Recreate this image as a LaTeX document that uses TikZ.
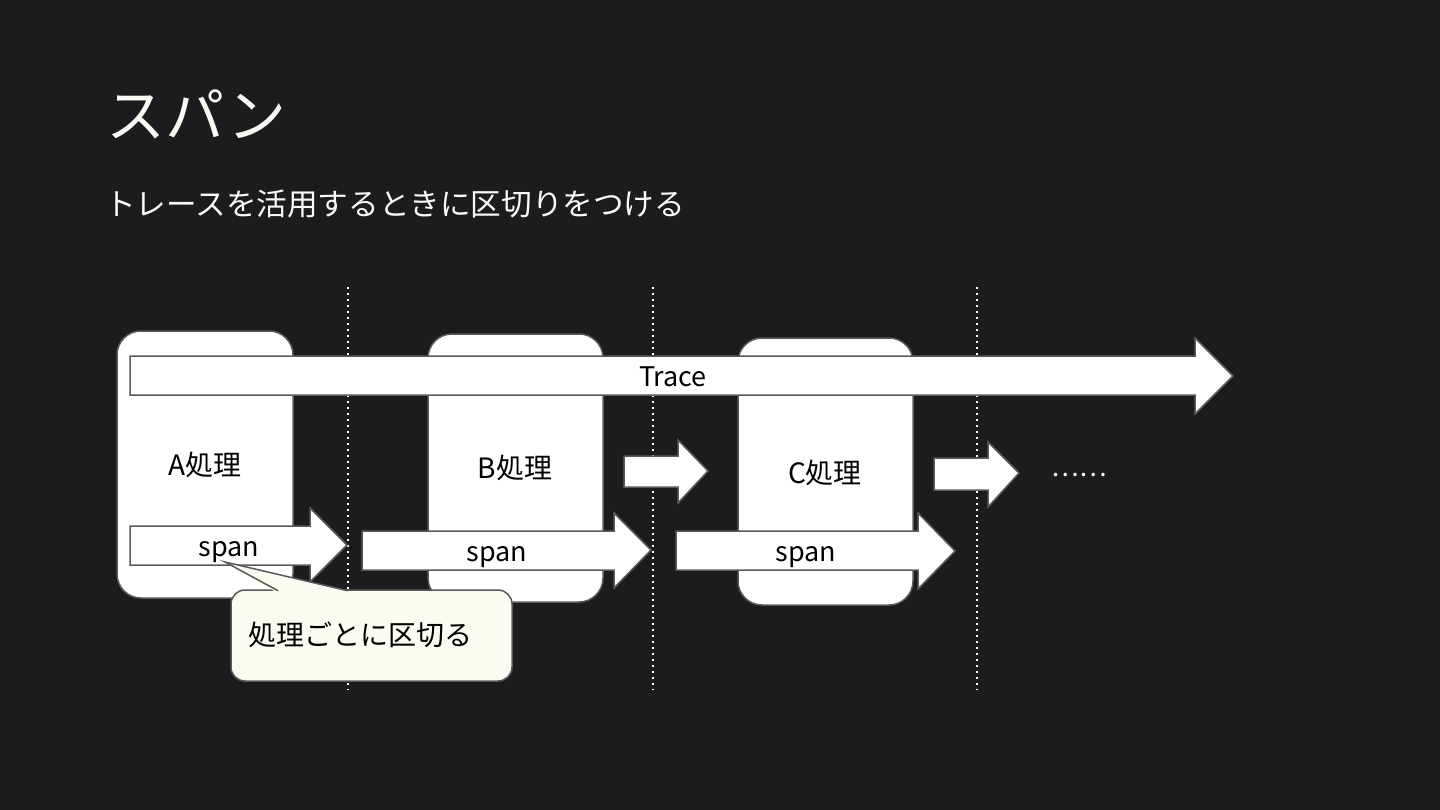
\documentclass[tikz,border=0pt]{standalone}
\usepackage{fontspec}
\setmainfont{Noto Sans CJK JP}
\definecolor{bg}{HTML}{1B1C1E}
\definecolor{edge}{HTML}{5A5A5A}
\definecolor{ivory}{HTML}{FBFBF1}
\definecolor{titlefg}{HTML}{FAFAF4}
\tikzset{
  procbox/.style={draw=edge, line width=1.5pt, fill=white, rounded corners=24pt},
  blockarrow/.style={draw=edge, line width=1.5pt, fill=white, line join=miter},
  sep/.style={draw=white, line width=1.8pt, dash pattern=on 2pt off 4pt},
  lbl/.style={inner sep=0pt, text=black, font=\fontsize{28}{32}\selectfont},
  spanlbl/.style={inner sep=0pt, text=black, anchor=base, font=\fontsize{27}{32}\selectfont},
  calloutbox/.style={draw=edge, line width=1.5pt, fill=ivory, rounded corners=14pt},
}
\begin{document}
\begin{tikzpicture}[x=1pt,y=-1pt]
\fill[bg] (0,0) rectangle (1440,810);
\useasboundingbox (0,0) rectangle (1440,810);

% titles
\node[anchor=west, inner sep=0pt, text=titlefg, font=\fontsize{59}{66}\selectfont] (title) at (106,114) {スパン};
\node[anchor=west, inner sep=0pt, text=titlefg, font=\fontsize{30.6}{36}\selectfont] (subtitle) at (105,204) {トレースを活用するときに区切りをつける};

% separators
\coordinate (s1t) at (348,287); \coordinate (s1b) at (348,690);
\coordinate (s2t) at (653,287); \coordinate (s2b) at (653,690);
\coordinate (s3t) at (977,287); \coordinate (s3b) at (977,690);
\draw[sep] (s1t) -- (s1b);
\draw[sep] (s2t) -- (s2b);
\draw[sep] (s3t) -- (s3b);

% process boxes
\draw[procbox] (117,331) rectangle (293,598);
\draw[procbox] (428,334) rectangle (603,602);
\draw[procbox] (738,338) rectangle (913,605);
\node[lbl] (A) at (205,465) {A処理};
\node[lbl] (B) at (515,468) {B処理};
\node[lbl] (C) at (825,473) {C処理};

% trace arrow
\draw[blockarrow] (130,356) -- (1195,356) -- (1195,338) -- (1233,376) -- (1195,414) -- (1195,395) -- (130,395) -- cycle;
\node[spanlbl] (trace) at (673,386) {Trace};

% small arrows
\draw[blockarrow] (624,456) -- (678,456) -- (678,440) -- (708,471) -- (678,503) -- (678,487) -- (624,487) -- cycle;
\draw[blockarrow] (934,458) -- (988,458) -- (988,442) -- (1019,473) -- (988,507) -- (988,490) -- (934,490) -- cycle;
\node[inner sep=0pt, text=white, font=\fontsize{26}{30}\selectfont] (dots) at (1079,475) {……};

% span arrows
\draw[blockarrow] (130,526) -- (310,526) -- (310,508) -- (347,545) -- (310,582) -- (310,565) -- (130,565) -- cycle;
\node[spanlbl] (spanA) at (229,556) {span};
\draw[blockarrow] (362,531) -- (614,531) -- (614,513) -- (651,550) -- (614,588) -- (614,570) -- (362,570) -- cycle;
\node[spanlbl] (spanB) at (497,561) {span};
\draw[blockarrow] (676,531) -- (918,531) -- (918,513) -- (955,551) -- (918,589) -- (918,570) -- (676,570) -- cycle;
\node[spanlbl] (spanC) at (806,561) {span};

% callout
\draw[calloutbox] (231,590) rectangle (512,681);
\coordinate (tip) at (225,562);
\fill[ivory] (276,592) -- (tip) -- (350,592) -- cycle;
\draw[edge, line width=1.5pt] (278,590.75) -- (tip) -- (348,590.75);
\node[lbl, anchor=west] (note) at (248,635) {処理ごとに区切る};
\end{tikzpicture}
\end{document}
